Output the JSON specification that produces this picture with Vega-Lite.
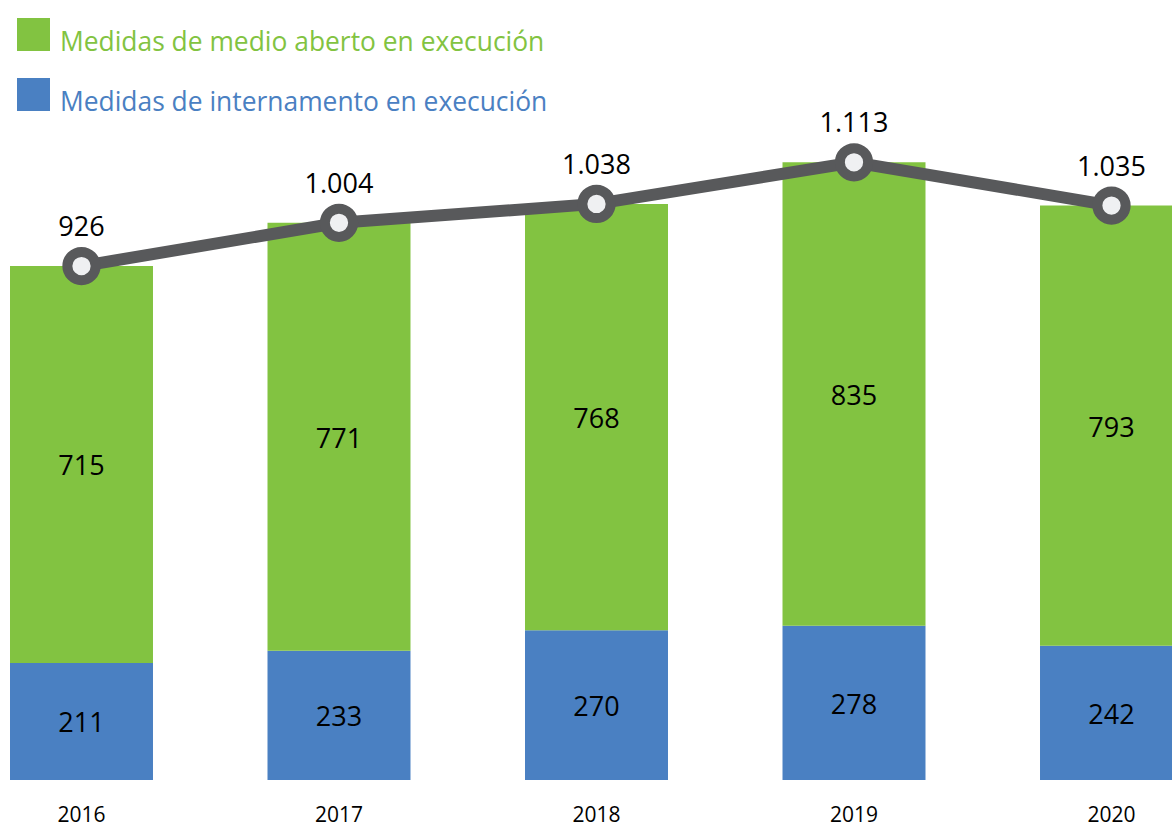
{
  "$schema": "https://vega.github.io/schema/vega-lite/v6.json",
  "autosize": {"type": "none"},
  "width": 1173,
  "height": 666,
  "padding": {"left": 10, "top": 114, "right": 0, "bottom": 46},
  "background": "white",
  "config": {
    "view": {"stroke": null},
    "font": "Open Sans",
    "locale": {"number": {"decimal": ",", "thousands": ".", "grouping": [3], "currency": ["", " €"]}}
  },
  "data": {
    "values": [
      {"year": "2016", "series": "Medidas de internamento en execución", "n": 211, "ord": 1},
      {"year": "2016", "series": "Medidas de medio aberto en execución", "n": 715, "ord": 2},
      {"year": "2017", "series": "Medidas de internamento en execución", "n": 233, "ord": 1},
      {"year": "2017", "series": "Medidas de medio aberto en execución", "n": 771, "ord": 2},
      {"year": "2018", "series": "Medidas de internamento en execución", "n": 270, "ord": 1},
      {"year": "2018", "series": "Medidas de medio aberto en execución", "n": 768, "ord": 2},
      {"year": "2019", "series": "Medidas de internamento en execución", "n": 278, "ord": 1},
      {"year": "2019", "series": "Medidas de medio aberto en execución", "n": 835, "ord": 2},
      {"year": "2020", "series": "Medidas de internamento en execución", "n": 242, "ord": 1},
      {"year": "2020", "series": "Medidas de medio aberto en execución", "n": 793, "ord": 2}
    ]
  },
  "encoding": {
    "x": {
      "field": "year", "type": "nominal", "title": null,
      "scale": {"paddingInner": 0.4447, "paddingOuter": 0},
      "axis": {"labelAngle": 0, "ticks": false, "domain": false, "labelFontSize": 21, "labelColor": "#000000", "labelPadding": 24, "labelFont": "Open Sans"}
    }
  },
  "layer": [
    {
      "mark": {"type": "bar", "opacity": 1},
      "encoding": {
        "y": {"field": "n", "type": "quantitative", "stack": "zero", "scale": {"domain": [0, 1200], "nice": false}, "axis": null},
        "color": {
          "field": "series", "type": "nominal",
          "scale": {"domain": ["Medidas de medio aberto en execución", "Medidas de internamento en execución"], "range": ["#82c341", "#4a80c2"]},
          "legend": {
            "title": null, "orient": "none", "legendX": 7, "legendY": -96,
            "symbolType": "square", "symbolSize": 1089, "symbolStrokeWidth": 0, "symbolOpacity": 1,
            "labelFontSize": 26.4, "labelFont": "Open Sans", "labelOffset": 10, "labelLimit": 0,
            "rowPadding": 22, "padding": 0,
            "encode": {"labels": {"update": {"fill": {"scale": "color", "field": "value"}, "dy": {"value": 8}}}}
          }
        },
        "order": {"field": "ord", "type": "quantitative"}
      }
    },
    {
      "transform": [
        {"stack": "n", "groupby": ["year"], "sort": [{"field": "ord"}], "as": ["v0", "v1"]},
        {"fold": ["v0", "v1"], "as": ["k", "pos"]},
        {"aggregate": [{"op": "mean", "field": "pos", "as": "mid"}, {"op": "max", "field": "n", "as": "n"}], "groupby": ["year", "series"]}
      ],
      "mark": {"type": "text", "fontSize": 27, "color": "#000000", "baseline": "middle", "dy": 3, "font": "Open Sans"},
      "encoding": {
        "y": {"field": "mid", "type": "quantitative"},
        "text": {"field": "n", "type": "quantitative", "format": ",d"}
      }
    },
    {
      "mark": {"type": "line", "color": "#58595b", "strokeWidth": 12},
      "encoding": {
        "y": {"aggregate": "sum", "field": "n", "type": "quantitative"}
      }
    },
    {
      "mark": {"type": "point", "shape": "circle", "filled": false, "fill": "#eff0f2", "stroke": "#58595b", "strokeWidth": 10, "size": 800, "opacity": 1},
      "encoding": {
        "y": {"aggregate": "sum", "field": "n", "type": "quantitative"}
      }
    },
    {
      "mark": {"type": "text", "fontSize": 27, "color": "#000000", "baseline": "middle", "dy": -38, "font": "Open Sans"},
      "encoding": {
        "y": {"aggregate": "sum", "field": "n", "type": "quantitative"},
        "text": {"aggregate": "sum", "field": "n", "type": "quantitative", "format": ",d"}
      }
    }
  ]
}
